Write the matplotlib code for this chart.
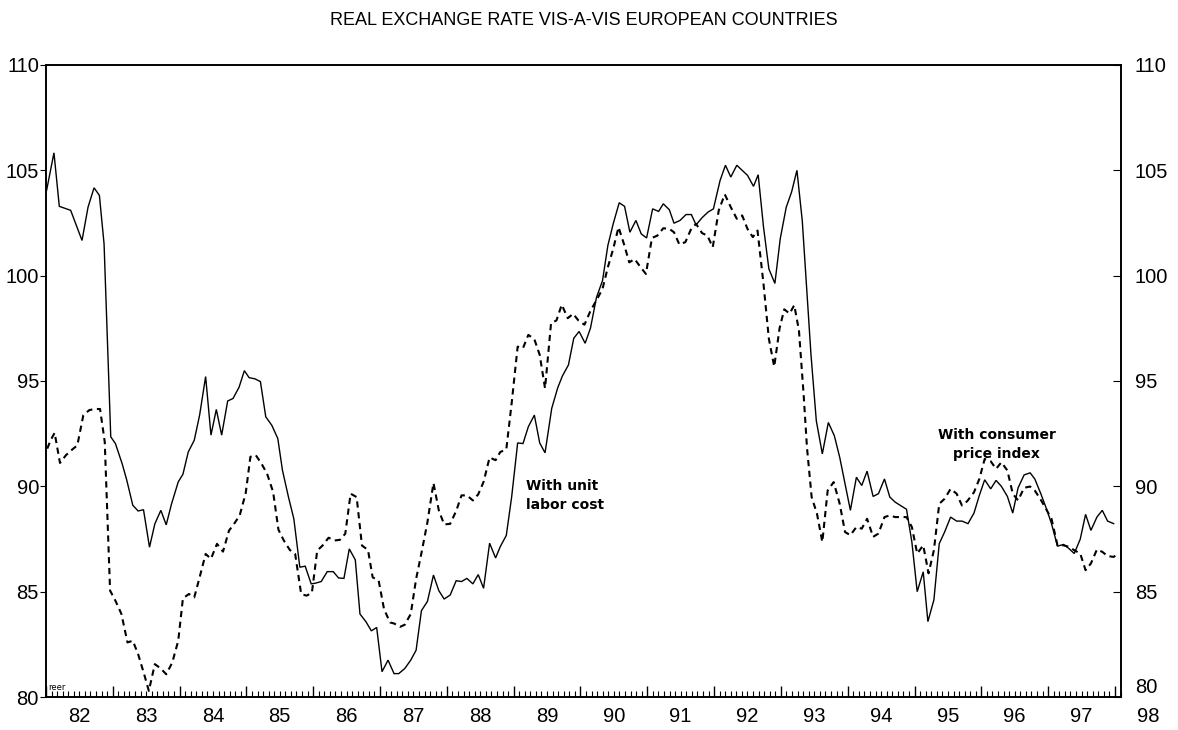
import numpy as np
import matplotlib
matplotlib.use("Agg")
import matplotlib.pyplot as plt
from matplotlib.ticker import FixedLocator, NullFormatter

# real exchange rate, monthly readings (decimal year, index)
ulc_x = [81.51, 81.62, 81.70, 81.87, 82.04, 82.13, 82.22, 82.30, 82.37, 82.47,
         82.54, 82.64, 82.71, 82.80, 82.88, 82.96, 83.05, 83.13, 83.22, 83.30,
         83.38, 83.48, 83.55, 83.63, 83.72, 83.80, 83.89, 83.97, 84.05, 84.13,
         84.22, 84.30, 84.39, 84.47, 84.54, 84.63, 84.71, 84.79, 84.88, 84.97,
         85.04, 85.13, 85.21, 85.30, 85.38, 85.47, 85.53, 85.62, 85.71, 85.80,
         85.88, 85.96, 86.04, 86.13, 86.20, 86.29, 86.37, 86.45, 86.53, 86.62,
         86.71, 86.78, 86.87, 86.96, 87.04, 87.12, 87.21, 87.30, 87.38, 87.46,
         87.55, 87.64, 87.72, 87.80, 87.89, 87.97, 88.05, 88.14, 88.23, 88.30,
         88.39, 88.47, 88.56, 88.64, 88.72, 88.81, 88.89, 88.97, 89.07, 89.16,
         89.23, 89.32, 89.40, 89.48, 89.57, 89.65, 89.74, 89.83, 89.91, 89.99,
         90.08, 90.16, 90.24, 90.33, 90.41, 90.49, 90.58, 90.67, 90.74, 90.83,
         90.90, 90.99, 91.08, 91.16, 91.23, 91.32, 91.41, 91.49, 91.59, 91.67,
         91.75, 91.84, 91.91, 92.00, 92.09, 92.16, 92.24, 92.32, 92.41, 92.49,
         92.58, 92.66, 92.74, 92.82, 92.95, 93.03, 93.12, 93.21, 93.30, 93.38,
         93.46, 93.54, 93.63, 93.71, 93.79, 93.88, 93.96, 94.05, 94.13, 94.21,
         94.29, 94.38, 94.46, 94.54, 94.63, 94.70, 94.79, 94.87, 94.95, 95.04,
         95.13, 95.21, 95.30, 95.39, 95.47, 95.55, 95.64, 95.72, 95.80, 95.89,
         95.97, 96.05, 96.14, 96.23, 96.30, 96.39, 96.48, 96.55, 96.64, 96.73,
         96.81, 96.89, 96.98, 97.06, 97.14, 97.23, 97.31, 97.39, 97.48]
ulc_y = [104.05, 105.83, 103.29, 103.10, 101.67, 103.25, 104.17, 103.81, 101.50, 92.35,
         92.03, 91.08, 90.29, 89.10, 88.83, 88.89, 87.11, 88.22, 88.86, 88.17,
         89.17, 90.21, 90.57, 91.63, 92.19, 93.38, 95.21, 92.43, 93.65, 92.43,
         94.05, 94.17, 94.70, 95.49, 95.16, 95.10, 94.97, 93.30, 92.90, 92.27,
         90.76, 89.49, 88.46, 86.16, 86.21, 85.37, 85.40, 85.48, 85.95, 85.95,
         85.65, 85.63, 87.03, 86.51, 83.94, 83.57, 83.14, 83.30, 81.20, 81.75,
         81.11, 81.11, 81.35, 81.75, 82.22, 84.10, 84.54, 85.79, 85.05, 84.65,
         84.84, 85.52, 85.48, 85.63, 85.37, 85.81, 85.16, 87.30, 86.60, 87.14,
         87.67, 89.49, 92.06, 92.03, 92.83, 93.38, 92.06, 91.59, 93.70, 94.68,
         95.24, 95.76, 97.03, 97.35, 96.79, 97.51, 98.97, 99.76, 101.43, 102.46,
         103.46, 103.29, 102.06, 102.62, 101.98, 101.79, 103.17, 103.05, 103.41, 103.13,
         102.49, 102.62, 102.90, 102.90, 102.41, 102.75, 103.02, 103.17, 104.52, 105.24,
         104.68, 105.24, 105.03, 104.76, 104.24, 104.79, 102.30, 100.32, 99.63, 101.75,
         103.25, 103.97, 105.00, 102.60, 96.26, 93.11, 91.54, 93.03, 92.40, 91.38,
         90.12, 88.86, 90.43, 90.04, 90.72, 89.52, 89.65, 90.35, 89.49, 89.25,
         89.09, 88.91, 87.36, 85.00, 85.94, 83.58, 84.61, 87.28, 87.83, 88.54,
         88.35, 88.35, 88.23, 88.73, 89.57, 90.31, 89.88, 90.28, 90.00, 89.52,
         88.73, 89.93, 90.54, 90.64, 90.35, 89.65, 88.89, 88.23, 87.16, 87.24,
         87.05, 86.81, 87.49, 88.67, 87.91, 88.54, 88.86, 88.35, 88.23]

cpi_x = [81.52, 81.57, 81.63, 81.71, 81.80, 81.88, 81.97, 82.06, 82.15, 82.23,
         82.31, 82.38, 82.46, 82.54, 82.63, 82.72, 82.80, 82.88, 82.97, 83.04,
         83.13, 83.22, 83.30, 83.39, 83.48, 83.55, 83.64, 83.72, 83.80, 83.89,
         83.97, 84.06, 84.15, 84.24, 84.31, 84.40, 84.49, 84.56, 84.64, 84.72,
         84.81, 84.90, 84.98, 85.06, 85.15, 85.23, 85.32, 85.40, 85.48, 85.56,
         85.64, 85.73, 85.82, 85.90, 85.98, 86.06, 86.15, 86.23, 86.32, 86.39,
         86.48, 86.56, 86.65, 86.71, 86.80, 86.87, 86.96, 87.04, 87.12, 87.21,
         87.30, 87.38, 87.46, 87.55, 87.64, 87.72, 87.80, 87.89, 87.97, 88.05,
         88.14, 88.23, 88.30, 88.39, 88.47, 88.56, 88.64, 88.72, 88.81, 88.89,
         88.97, 89.06, 89.14, 89.22, 89.31, 89.39, 89.47, 89.56, 89.65, 89.75,
         89.83, 89.91, 89.99, 90.07, 90.15, 90.23, 90.31, 90.40, 90.48, 90.57,
         90.65, 90.74, 90.83, 90.90, 90.98, 91.07, 91.15, 91.23, 91.32, 91.40,
         91.48, 91.57, 91.66, 91.75, 91.84, 91.92, 92.00, 92.08, 92.15, 92.24,
         92.32, 92.40, 92.48, 92.55, 92.63, 92.70, 92.77, 92.84, 92.89, 92.96,
         93.04, 93.12, 93.20, 93.29, 93.38, 93.46, 93.54, 93.63, 93.71, 93.79,
         93.88, 93.96, 94.05, 94.13, 94.21, 94.29, 94.38, 94.46, 94.54, 94.63,
         94.71, 94.79, 94.87, 94.95, 95.04, 95.13, 95.21, 95.29, 95.39, 95.47,
         95.55, 95.64, 95.72, 95.80, 95.89, 95.97, 96.05, 96.14, 96.23, 96.30,
         96.39, 96.48, 96.55, 96.64, 96.73, 96.81, 96.89, 96.98, 97.06, 97.14,
         97.23, 97.31, 97.39, 97.48, 97.55]
cpi_y = [91.79, 92.19, 92.54, 91.11, 91.48, 91.71, 91.95, 93.38, 93.62, 93.67,
         93.67, 92.11, 85.05, 84.57, 83.94, 82.59, 82.67, 82.03, 81.08, 80.29,
         81.56, 81.35, 81.08, 81.63, 82.67, 84.68, 84.89, 84.73, 85.68, 86.79,
         86.56, 87.27, 86.90, 87.90, 88.19, 88.62, 89.68, 91.40, 91.48, 91.11,
         90.60, 89.73, 87.94, 87.43, 86.98, 86.79, 84.89, 84.81, 84.94, 86.95,
         87.19, 87.56, 87.43, 87.46, 87.75, 89.65, 89.49, 87.19, 86.98, 85.68,
         85.52, 84.17, 83.54, 83.49, 83.33, 83.43, 83.94, 85.60, 86.83, 88.30,
         90.16, 88.86, 88.19, 88.22, 88.83, 89.57, 89.57, 89.33, 89.62, 90.21,
         91.37, 91.24, 91.63, 91.75, 93.94, 96.63, 96.56, 97.19, 96.98, 96.24,
         94.65, 97.75, 97.87, 98.62, 97.98, 98.19, 97.87, 97.67, 98.33, 98.89,
         99.37, 100.40, 101.27, 102.30, 101.51, 100.63, 100.79, 100.40, 100.08, 101.79,
         101.90, 102.25, 102.22, 102.06, 101.48, 101.59, 102.17, 102.46, 102.02, 101.90,
         101.35, 103.10, 103.86, 103.25, 102.70, 102.86, 102.22, 101.83, 102.14, 99.60,
         97.00, 95.68, 97.50, 98.40, 98.20, 98.60, 97.40, 94.37, 91.85, 89.49,
         88.70, 87.36, 89.80, 90.20, 89.17, 87.83, 87.68, 88.07, 87.99, 88.46,
         87.60, 87.76, 88.54, 88.62, 88.54, 88.54, 88.54, 88.07, 86.81, 87.20,
         85.87, 86.97, 89.17, 89.41, 89.88, 89.65, 89.09, 89.30, 89.72, 90.35,
         91.30, 91.19, 90.83, 91.14, 90.75, 89.65, 89.33, 89.93, 89.99, 89.80,
         89.36, 88.86, 88.46, 87.20, 87.20, 87.13, 86.97, 86.81, 86.02, 86.34,
         87.00, 86.89, 86.69, 86.65, 86.81]

year_labels = ['82', '83', '84', '85', '86', '87', '88', '89', '90',
               '91', '92', '93', '94', '95', '96', '97', '98']
y_ticks = [80, 85, 90, 95, 100, 105, 110]

TICK_FONT = 'Liberation Sans'


def main():
    fig = plt.figure(figsize=(11.78, 7.3), dpi=100)
    ax = fig.add_axes([0.039, 0.0452, 0.9126, 0.8658])

    ax.plot(ulc_x, ulc_y, color='black', lw=1.0, solid_joinstyle='miter')
    ax.plot(cpi_x, cpi_y, color='black', lw=1.5, linestyle=(0, (3.0, 2.2)))

    ax.set_xlim(81.5, 97.59)
    ax.set_ylim(80, 110)

    # year boundaries sit mid-way, labels on the year itself
    ax.xaxis.set_major_locator(FixedLocator(np.arange(81.5, 97.6, 1.0)))
    ax.xaxis.set_minor_locator(FixedLocator(np.arange(81.5, 97.6, 1 / 12)))
    ax.xaxis.set_major_formatter(NullFormatter())
    ax.tick_params(axis='x', which='major', direction='in', length=8, width=1.0)
    ax.tick_params(axis='x', which='minor', direction='in', length=4, width=0.8)
    for i, lab in enumerate(year_labels):
        ax.text(82 + i, -0.031, lab, transform=ax.get_xaxis_transform(),
                ha='center', va='center', fontsize=14.5, family=TICK_FONT)

    ax.set_yticks(y_ticks)
    ax.tick_params(axis='y', direction='out', length=4, width=0.8, pad=1,
                   labelsize=14.5)
    ax2 = ax.twinx()
    ax2.set_ylim(ax.get_ylim())
    ax2.set_yticks(y_ticks)
    ax2.tick_params(axis='y', direction='in', length=6, width=0.8, pad=10,
                    labelsize=14.5)
    for lab in ax.get_yticklabels() + ax2.get_yticklabels():
        lab.set_family(TICK_FONT)
    # lift the lowest right-hand label a touch so it clears the "98"
    ax2.get_yticklabels()[0].set_verticalalignment('bottom')

    for a in (ax, ax2):
        for s in a.spines.values():
            s.set_linewidth(1.2)

    ax.text(88.68, 89.55, 'With unit\nlabor cost', ha='left', va='center',
            fontsize=10, fontweight='bold', linespacing=1.45)
    ax.text(95.73, 91.97, 'With consumer\nprice index', ha='center', va='center',
            fontsize=10, fontweight='bold', linespacing=1.45, multialignment='center')
    ax.text(81.53, 80.25, 'reer', ha='left', va='bottom', fontsize=6)

    fig.text(0.496, 0.972, 'REAL EXCHANGE RATE VIS-A-VIS EUROPEAN COUNTRIES',
             ha='center', va='center', fontsize=13, family=TICK_FONT)

    fig.savefig('out.png', dpi=100)


if __name__ == '__main__':
    main()
